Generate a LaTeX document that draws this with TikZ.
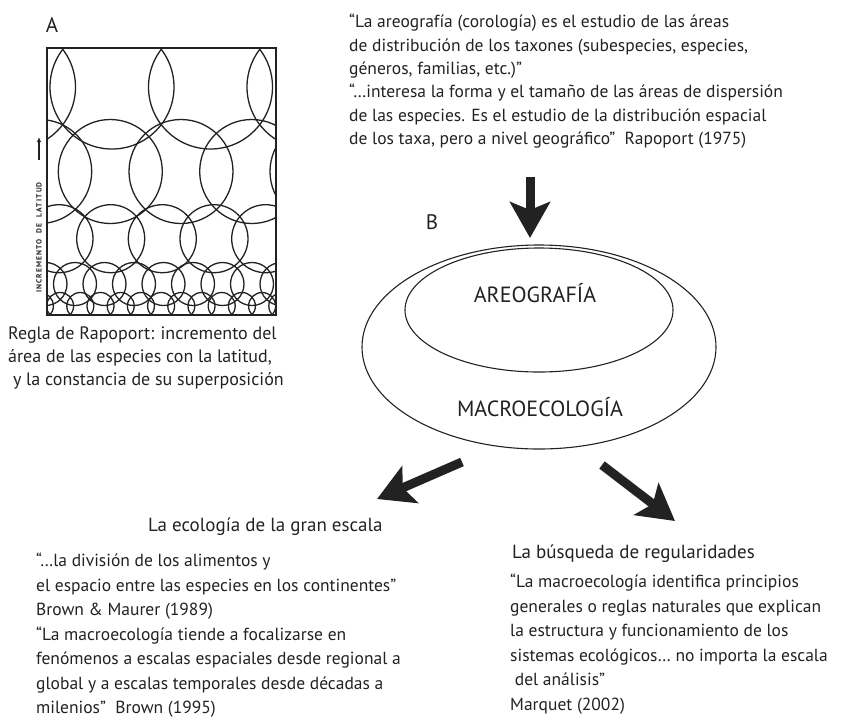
\documentclass[tikz,border=0pt]{standalone}
\usepackage{fontspec}
\setmainfont{PT Sans}
\usetikzlibrary{arrows.meta,shapes.geometric}
\definecolor{ink}{HTML}{222222}
\begin{document}
\begin{tikzpicture}[x=1pt,y=-1pt,
  txt/.style={inner sep=0pt, anchor=north west, align=left, text=ink},
  body/.style={txt, font=\fontsize{17.5}{24.5}\selectfont},
  headtxt/.style={inner sep=0pt, anchor=base west, text=ink, font=\fontsize{19}{22}\selectfont},
  letter/.style={inner sep=0pt, text=ink, font=\fontsize{21}{24}\selectfont},
  caps/.style={inner sep=0pt, text=ink, font=\fontsize{22}{26}\selectfont},
  bigarrow/.style={draw=ink, fill=ink, line width=9pt, -{Stealth[length=36pt,width=40pt,inset=8pt]}},
  ring/.style={draw=ink, line width=1.3pt},
  oval/.style={draw=ink, ellipse, line width=1.1pt, inner sep=0pt}]
\useasboundingbox (0,0) rectangle (842,721);

% ---------- Panel A ----------
\node[letter] (labA) at (52,25) {A};
\begin{scope}
  \clip (47,48) rectangle (276,315);
  \foreach \cx in {13.5,112,210.5,309} \draw[ring] (\cx,87) circle[radius=62];
  \foreach \cx in {-31,39.7,110.3,181,251.7,322} \draw[ring] (\cx,171.5) circle[radius=52];
  \foreach \cx in {7.3,59,110.7,162.3,214,265.7,317} \draw[ring] (\cx,238.7) circle[radius=34];
  \foreach \i in {0,...,10} \draw[ring] (16+29.5*\i,284) circle[radius=21.5];
  \foreach \i in {0,...,14} \draw[ring] (19.7+20.2*\i,306) circle[radius=13.5];
\end{scope}
\node[draw=ink, line width=2.4pt, minimum width=229pt, minimum height=267pt, inner sep=0pt] (boxA) at (161.5,181.5) {};
\node[rotate=90, anchor=west, inner sep=0pt, text=ink,
      font=\bfseries\fontsize{7.5}{7.5}\selectfont\addfontfeature{LetterSpace=15}] (lat) at (39,293) {INCREMENTO\ \ DE\ \ LATITUD};
\coordinate (latA) at (39,160);
\coordinate (latB) at (39,137);
\draw[draw=ink, line width=1.3pt, -{Latex[length=5pt,width=4.5pt]}] (latA) -- (latB);
\node[txt, font=\fontsize{18}{23}\selectfont] (capA) at (8,327) {Regla de Rapoport: incremento del\\
área de las especies con la latitud,\\
\ y la constancia de su superposición};

% ---------- Top quote ----------
\node[body, font=\fontsize{17.5}{23.3}\selectfont] (topq) at (349,14) {“La areografía (corología) es el estudio de las áreas\\
de distribución de los taxones (subespecies, especies,\\
géneros, familias, etc.)”\\
“…interesa la forma y el tamaño de las áreas de dispersión\\
de las especies. Es el estudio de la distribución espacial\\
de los taxa, pero a nivel geográfico”\ \ Rapoport (1975)};

% ---------- Panel B ----------
\node[letter] (labB) at (432,222) {B};
\node[oval, minimum width=354pt, minimum height=204pt] (macro) at (539,347) {};
\node[oval, minimum width=268pt, minimum height=124pt] (areo) at (539,310) {};
\node[caps] (areoT) at (535,293) {AREOGRAFÍA};
\node[caps] (macroT) at (540,407) {MACROECOLOGÍA};

\coordinate (dA) at (530,177);
\coordinate (dB) at (530,238);
\draw[bigarrow] (dA) -- (dB);
\coordinate (lA) at (462,462);
\coordinate (lB) at (377,499);
\draw[bigarrow] (lA) -- (lB);
\coordinate (rA) at (602,465);
\coordinate (rB) at (675,521);
\draw[bigarrow] (rA) -- (rB);

% ---------- Bottom texts ----------
\node[headtxt] (hL) at (148,531) {La ecología de la gran escala};
\node[body] (qL) at (36,553) {“…la división de los alimentos y\\
el espacio entre las especies en los continentes”\\
Brown \& Maurer (1989)\\
“La macroecología tiende a focalizarse en\\
fenómenos a escalas espaciales desde regional a\\
global y a escalas temporales desde décadas a\\
milenios”\ \ Brown (1995)};

\node[headtxt] (hR) at (512,558) {La búsqueda de regularidades};
\node[body] (qR) at (510,574) {“La macroecología identifica principios\\
generales o reglas naturales que explican\\
la estructura y funcionamiento de los\\
sistemas ecológicos… no importa la escala\\
\ del análisis”\\
Marquet (2002)};
\end{tikzpicture}
\end{document}
